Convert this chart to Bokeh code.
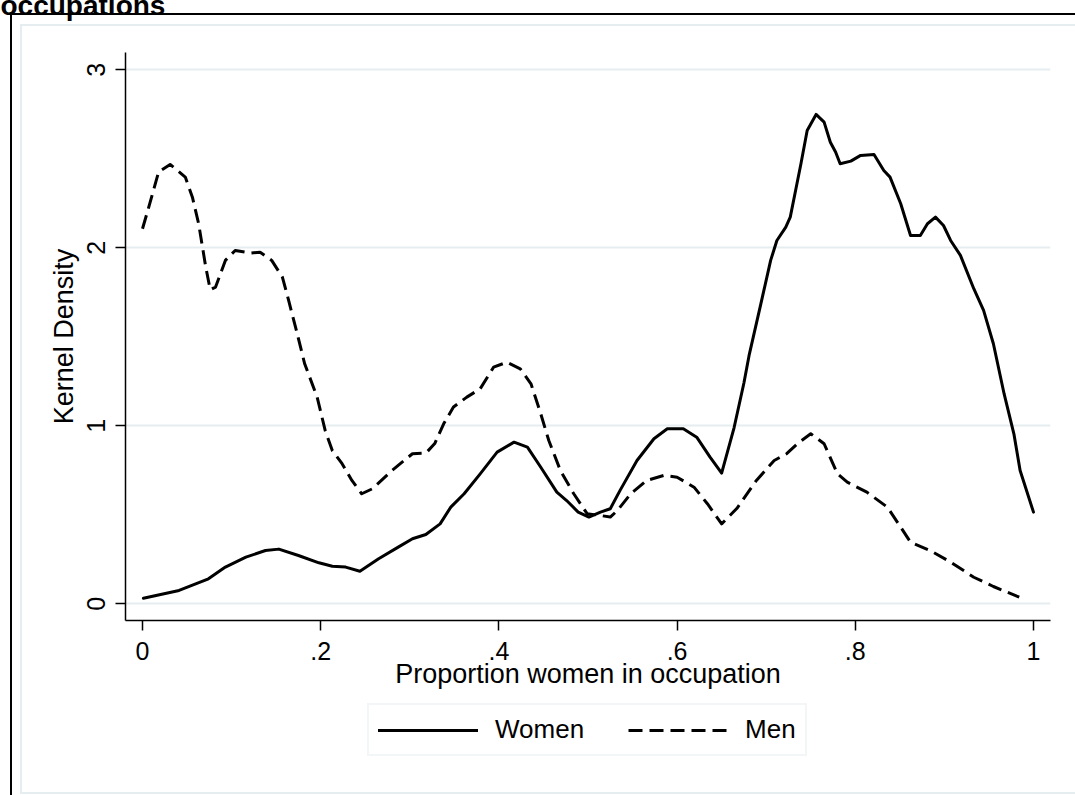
from bokeh.plotting import figure
from bokeh.layouts import column
from bokeh.models import (Range1d, FixedTicker, Legend, LegendItem, Label,
                          InlineStyleSheet)
from bokeh.embed import file_html
from bokeh.resources import INLINE

# Kernel density estimates of the share of women in one's occupation
women_x = [0.001, 0.041, 0.074, 0.093, 0.116, 0.138, 0.153, 0.175, 0.198, 0.213,
           0.228, 0.244, 0.265, 0.287, 0.303, 0.318, 0.334, 0.346, 0.361, 0.379,
           0.398, 0.417, 0.432, 0.447, 0.465, 0.476, 0.489, 0.501, 0.514, 0.525,
           0.536, 0.555, 0.574, 0.589, 0.607, 0.622, 0.637, 0.650, 0.664, 0.675,
           0.681, 0.694, 0.705, 0.712, 0.722, 0.727, 0.733, 0.739, 0.746, 0.756,
           0.765, 0.772, 0.778, 0.783, 0.795, 0.806, 0.821, 0.832, 0.839, 0.851,
           0.862, 0.873, 0.881, 0.890, 0.899, 0.907, 0.918, 0.933, 0.944, 0.955,
           0.967, 0.978, 0.985, 1.000]
women_y = [0.031, 0.075, 0.140, 0.206, 0.262, 0.299, 0.307, 0.271, 0.230, 0.211,
           0.206, 0.183, 0.253, 0.318, 0.365, 0.389, 0.449, 0.543, 0.618, 0.730,
           0.852, 0.908, 0.880, 0.767, 0.627, 0.580, 0.515, 0.487, 0.515, 0.534,
           0.637, 0.805, 0.927, 0.983, 0.983, 0.936, 0.824, 0.734, 0.990, 1.240,
           1.400, 1.685, 1.929, 2.041, 2.116, 2.172, 2.322, 2.472, 2.659, 2.749,
           2.706, 2.593, 2.537, 2.472, 2.487, 2.519, 2.524, 2.434, 2.397, 2.247,
           2.069, 2.069, 2.135, 2.172, 2.125, 2.041, 1.957, 1.770, 1.648, 1.461,
           1.180, 0.955, 0.749, 0.515]

men_x = [0.000, 0.007, 0.018, 0.031, 0.048, 0.056, 0.063, 0.071, 0.076, 0.082,
         0.093, 0.104, 0.121, 0.132, 0.145, 0.157, 0.164, 0.173, 0.182, 0.196,
         0.205, 0.213, 0.224, 0.235, 0.246, 0.258, 0.280, 0.303, 0.318, 0.328,
         0.338, 0.349, 0.364, 0.379, 0.394, 0.409, 0.424, 0.436, 0.447, 0.456,
         0.469, 0.484, 0.499, 0.514, 0.525, 0.533, 0.548, 0.566, 0.585, 0.600,
         0.619, 0.634, 0.650, 0.667, 0.689, 0.709, 0.723, 0.735, 0.750, 0.765,
         0.780, 0.791, 0.813, 0.836, 0.851, 0.862, 0.884, 0.907, 0.933, 0.955,
         0.984]
men_y = [2.107, 2.228, 2.425, 2.468, 2.397, 2.284, 2.135, 1.891, 1.764, 1.779,
         1.929, 1.985, 1.970, 1.975, 1.929, 1.835, 1.704, 1.530, 1.348, 1.161,
         0.974, 0.861, 0.787, 0.693, 0.618, 0.646, 0.749, 0.843, 0.846, 0.900,
         1.011, 1.105, 1.161, 1.208, 1.329, 1.357, 1.320, 1.236, 1.067, 0.917,
         0.749, 0.618, 0.506, 0.496, 0.487, 0.524, 0.618, 0.693, 0.721, 0.711,
         0.655, 0.562, 0.449, 0.535, 0.693, 0.805, 0.843, 0.899, 0.955, 0.899,
         0.730, 0.683, 0.627, 0.543, 0.430, 0.346, 0.299, 0.234, 0.149, 0.097,
         0.037]

x_ticks = [0, 0.2, 0.4, 0.6, 0.8, 1]
x_tick_labels = ["0", ".2", ".4", ".6", ".8", "1"]
y_ticks = [0, 1, 2, 3]
y_tick_labels = ["0", "1", "2", "3"]

series_names = ["Women", "Men"]
title_text = "occupations"
x_title = "Proportion women in occupation"
y_title = "Kernel Density"

FONT = "Liberation Sans"
GRID = "#e5edf0"
WOMEN_STYLE = dict(line_color="black", line_width=3, line_join="round",
                   line_cap="round")
MEN_STYLE = dict(line_color="black", line_width=3, line_join="round",
                 line_dash="14 7")

# outer graph frame (black) and inner plot-region frame (pale)
frame_css = InlineStyleSheet(css="""
:host { position: relative; }
:host::after {
  content: ""; position: absolute; left: 10px; top: 13px; right: 0; bottom: 0;
  border-left: 2px solid #000; border-top: 2px solid #000;
  pointer-events: none; z-index: 2;
}
:host::before {
  content: ""; position: absolute; left: 20px; top: 24px; right: 0; bottom: 1px;
  border-left: 2px solid #e5edf0; border-top: 2px solid #e5edf0;
  border-bottom: 2px solid #e5edf0;
  pointer-events: none; z-index: 2;
}
""")

# ---- main density plot -------------------------------------------------
p = figure(width=1075, height=700, output_backend="svg", toolbar_location=None,
           x_range=Range1d(-0.0191, 1.0191), y_range=Range1d(-0.094, 3.097),
           min_border_left=125, min_border_right=25,
           min_border_top=52, min_border_bottom=80)
p.background_fill_color = "white"
p.border_fill_color = None
p.outline_line_color = None

p.xaxis.ticker = FixedTicker(ticks=x_ticks)
p.xaxis.major_label_overrides = {t: s for t, s in zip(x_ticks, x_tick_labels)}
p.yaxis.ticker = FixedTicker(ticks=y_ticks)
p.yaxis.major_label_overrides = {t: s for t, s in zip(y_ticks, y_tick_labels)}
p.yaxis.major_label_orientation = "vertical"

for ax in (p.xaxis, p.yaxis):
    ax.axis_line_color = "black"
    ax.axis_line_width = 1.5
    ax.major_tick_line_color = "black"
    ax.major_tick_line_width = 1.5
    ax.major_tick_out = 10
    ax.major_tick_in = 0
    ax.minor_tick_line_color = None
    ax.major_label_text_font = FONT
    ax.major_label_text_font_size = "25px"
    ax.major_label_text_color = "black"
    ax.axis_label_text_font = FONT
    ax.axis_label_text_font_size = "27px"
    ax.axis_label_text_font_style = "normal"
    ax.axis_label_text_color = "black"

p.xaxis.axis_label = x_title
p.yaxis.axis_label = y_title
p.xaxis.major_label_standoff = 11
p.xaxis.axis_label_standoff = -4
p.yaxis.major_label_standoff = 10
p.yaxis.axis_label_standoff = 6

p.xgrid.grid_line_color = None
p.ygrid.ticker = FixedTicker(ticks=y_ticks)
p.ygrid.grid_line_color = GRID
p.ygrid.grid_line_width = 2

p.line(women_x, women_y, **WOMEN_STYLE)
p.line(men_x, men_y, **MEN_STYLE)

# graph title; its upper part falls outside the canvas
p.add_layout(Label(x=0, y=5, x_units="canvas", y_units="canvas",
                   text=title_text, text_font=FONT, text_font_size="28px",
                   text_font_style="bold", text_color="black",
                   text_baseline="alphabetic"), "above")

# ---- legend strip below the plot --------------------------------------
# The key renderers reuse the series, with the view range set aside so that
# only their legend swatches appear.
lg = figure(width=1075, height=95, output_backend="svg", toolbar_location=None,
            x_range=Range1d(5, 6), y_range=Range1d(5, 6),
            x_axis_location=None, y_axis_location=None,
            min_border_left=0, min_border_right=0,
            min_border_top=0, min_border_bottom=0)
lg.xgrid.visible = False
lg.ygrid.visible = False
lg.outline_line_color = None
lg.background_fill_color = None
lg.border_fill_color = None
key_women = lg.line(women_x, women_y, **WOMEN_STYLE)
key_men = lg.line(men_x, men_y, **MEN_STYLE)

legend = Legend(items=[LegendItem(label=series_names[0], renderers=[key_women]),
                       LegendItem(label=series_names[1], renderers=[key_men])],
                orientation="horizontal", location=(242, 39))
legend.label_text_font = FONT
legend.label_text_font_size = "26px"
legend.label_text_color = "black"
legend.glyph_width = 100
legend.glyph_height = 28
legend.label_height = 28
legend.label_standoff = 17
legend.spacing = 44
legend.padding = 9
legend.margin = 0
legend.border_line_color = GRID
legend.border_line_width = 2
legend.background_fill_color = "white"
legend.background_fill_alpha = 1
lg.add_layout(legend, "center")

page = column(p, lg, spacing=0, stylesheets=[frame_css])

open("out.html", "w").write(file_html(page, INLINE))
